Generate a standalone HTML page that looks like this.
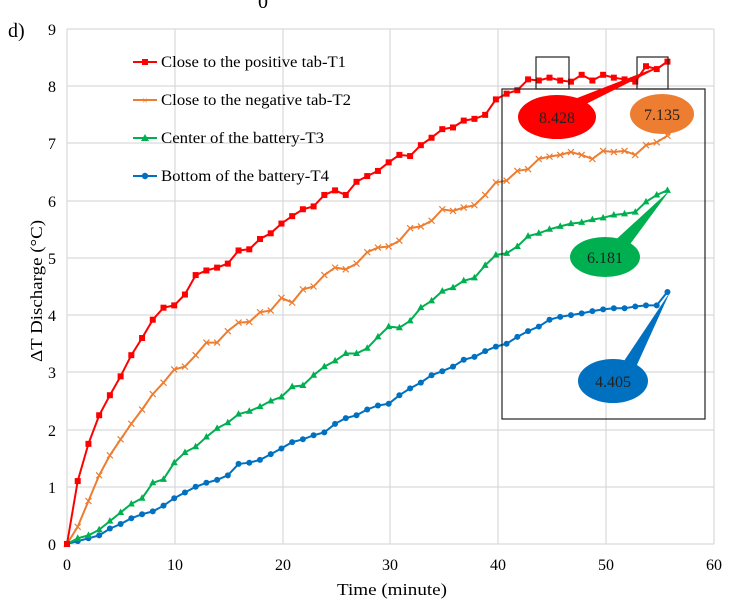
<!DOCTYPE html>
<html><head><style>
body{margin:0;background:#fff;}
svg{display:block;font-family:"Liberation Serif",serif;}
</style></head><body>
<svg id="s" width="739" height="605" viewBox="0 0 739 605">
<text x="258" y="8" font-size="20">0</text>
<text x="8" y="37" font-size="20">d)</text>
<g stroke="#d9d9d9" stroke-width="1.2">
<line x1="67" y1="29" x2="714" y2="29"/><line x1="67" y1="86" x2="714" y2="86"/><line x1="67" y1="143" x2="714" y2="143"/><line x1="67" y1="201" x2="714" y2="201"/><line x1="67" y1="258" x2="714" y2="258"/><line x1="67" y1="315" x2="714" y2="315"/><line x1="67" y1="372" x2="714" y2="372"/><line x1="67" y1="430" x2="714" y2="430"/><line x1="67" y1="487" x2="714" y2="487"/>
<line x1="175" y1="29" x2="175" y2="544"/><line x1="283" y1="29" x2="283" y2="544"/><line x1="390" y1="29" x2="390" y2="544"/><line x1="498" y1="29" x2="498" y2="544"/><line x1="606" y1="29" x2="606" y2="544"/><line x1="714" y1="29" x2="714" y2="544"/>
<line x1="67" y1="29" x2="67" y2="544"/><line x1="67" y1="544" x2="714" y2="544"/>
</g>
<g font-size="16" text-anchor="end">
<text x="56" y="550">0</text><text x="56" y="493">1</text><text x="56" y="436">2</text><text x="56" y="378">3</text><text x="56" y="321">4</text><text x="56" y="264">5</text><text x="56" y="207">6</text><text x="56" y="149">7</text><text x="56" y="92">8</text><text x="56" y="35">9</text>
</g>
<g font-size="16" text-anchor="middle">
<text x="67" y="570">0</text><text x="175" y="570">10</text><text x="283" y="570">20</text><text x="390" y="570">30</text><text x="498" y="570">40</text><text x="606" y="570">50</text><text x="714" y="570">60</text>
</g>
<text x="337" y="595" font-size="17" textLength="110" lengthAdjust="spacingAndGlyphs">Time (minute)</text>
<text transform="translate(42,362) rotate(-90)" font-size="17" textLength="142" lengthAdjust="spacingAndGlyphs">ΔT Discharge (°C)</text>
<g id="series"></g>
<g font-size="16">
<line x1="133" y1="62" x2="157" y2="62" stroke="#ff0000" stroke-width="2"/><rect x="142" y="59" width="6" height="6" fill="#ff0000"/>
<text x="161" y="67" textLength="185" lengthAdjust="spacingAndGlyphs">Close to the positive tab-T1</text>
<line x1="133" y1="100" x2="157" y2="100" stroke="#ed7d31" stroke-width="2"/><text x="145" y="104" font-size="11" fill="#ed7d31" text-anchor="middle">×</text>
<text x="161" y="105" textLength="190" lengthAdjust="spacingAndGlyphs">Close to the negative tab-T2</text>
<line x1="133" y1="138" x2="157" y2="138" stroke="#00b050" stroke-width="2"/><polygon points="145,134 149,141 141,141" fill="#00b050"/>
<text x="161" y="143" textLength="163" lengthAdjust="spacingAndGlyphs">Center of the battery-T3</text>
<line x1="133" y1="176" x2="157" y2="176" stroke="#0070c0" stroke-width="2"/><circle cx="145" cy="176" r="3.2" fill="#0070c0"/>
<text x="161" y="181" textLength="168" lengthAdjust="spacingAndGlyphs">Bottom of the battery-T4</text>
</g>
<g fill="none" stroke="#222" stroke-width="1.2">
<rect x="502" y="89" width="203" height="330"/>
<rect x="536" y="57" width="33" height="32"/>
<rect x="637" y="57" width="31" height="32"/>
</g>
<g font-size="16" text-anchor="middle" fill="#222">
<polygon points="572,100 670,62 582,106" fill="#ff0000"/>
<ellipse cx="557" cy="117" rx="39" ry="22" fill="#ff0000"/>
<text x="557" y="123">8.428</text>
<polygon points="660,130 670,136 672,128" fill="#ed7d31"/>
<ellipse cx="662" cy="114" rx="32" ry="20" fill="#ed7d31"/>
<text x="662" y="120">7.135</text>
<polygon points="610,245 670,190 628,247" fill="#00b050"/>
<ellipse cx="605" cy="257" rx="35" ry="20" fill="#00b050"/>
<text x="605" y="263">6.181</text>
<polygon points="620,367 670,292 636,367" fill="#0070c0"/>
<ellipse cx="613" cy="381" rx="35" ry="22" fill="#0070c0"/>
<text x="613" y="387">4.405</text>
</g>
</svg>
<script>
var D={
T1:[0,1.1,1.75,2.25,2.6,2.93,3.3,3.6,3.92,4.13,4.17,4.36,4.7,4.78,4.83,4.9,5.13,5.15,5.33,5.43,5.6,5.73,5.85,5.9,6.1,6.18,6.1,6.33,6.43,6.52,6.67,6.8,6.78,6.97,7.1,7.25,7.28,7.4,7.43,7.5,7.77,7.87,7.93,8.12,8.1,8.15,8.1,8.08,8.2,8.1,8.2,8.15,8.12,8.08,8.35,8.3,8.43],
T2:[0,0.3,0.75,1.2,1.55,1.83,2.1,2.35,2.62,2.82,3.05,3.1,3.3,3.52,3.52,3.72,3.87,3.88,4.05,4.08,4.3,4.22,4.45,4.5,4.7,4.83,4.8,4.9,5.1,5.18,5.2,5.3,5.52,5.55,5.65,5.85,5.82,5.88,5.92,6.1,6.32,6.35,6.52,6.55,6.73,6.77,6.8,6.85,6.8,6.73,6.87,6.85,6.87,6.8,6.97,7.02,7.135],
T3:[0,0.1,0.15,0.25,0.4,0.55,0.7,0.8,1.07,1.13,1.42,1.6,1.7,1.87,2.02,2.12,2.27,2.32,2.4,2.5,2.57,2.75,2.77,2.95,3.1,3.2,3.33,3.33,3.42,3.62,3.8,3.78,3.9,4.13,4.25,4.42,4.48,4.6,4.65,4.87,5.05,5.08,5.2,5.38,5.43,5.5,5.55,5.6,5.62,5.67,5.7,5.75,5.77,5.8,5.98,6.1,6.181],
T4:[0,0.05,0.1,0.15,0.27,0.35,0.45,0.52,0.57,0.67,0.8,0.9,1.0,1.07,1.12,1.2,1.4,1.42,1.47,1.57,1.67,1.78,1.83,1.9,1.95,2.1,2.2,2.25,2.35,2.42,2.45,2.6,2.72,2.82,2.95,3.02,3.1,3.22,3.27,3.37,3.45,3.5,3.62,3.72,3.8,3.92,3.97,4.0,4.03,4.07,4.1,4.12,4.12,4.15,4.17,4.17,4.405]};
var C={T1:"#ff0000",T2:"#ed7d31",T3:"#00b050",T4:"#0070c0"};
var g=document.getElementById("series"),h="";
["T4","T3","T2","T1"].forEach(function(k){var a=D[k],n=a.length,pts=[],m="";
for(var i=0;i<n;i++){var x=67+(i*55.7/(n-1))*10.78,y=544-a[i]*57.22;pts.push(x.toFixed(1)+","+y.toFixed(1));
if(k=="T1")m+='<rect x="'+(x-3)+'" y="'+(y-3)+'" width="6" height="6" fill="'+C[k]+'"/>';
else if(k=="T2")m+='<path d="M'+(x-3)+' '+(y-3)+'L'+(x+3)+' '+(y+3)+'M'+(x+3)+' '+(y-3)+'L'+(x-3)+' '+(y+3)+'" stroke="'+C[k]+'" stroke-width="1.2"/>';
else if(k=="T3")m+='<polygon points="'+x+','+(y-4)+' '+(x+3.5)+','+(y+2.5)+' '+(x-3.5)+','+(y+2.5)+'" fill="'+C[k]+'"/>';
else m+='<circle cx="'+x+'" cy="'+y+'" r="3" fill="'+C[k]+'"/>';}
h+='<polyline points="'+pts.join(" ")+'" fill="none" stroke="'+C[k]+'" stroke-width="2"/>'+m;});
g.innerHTML=h;
</script>
</body></html>
